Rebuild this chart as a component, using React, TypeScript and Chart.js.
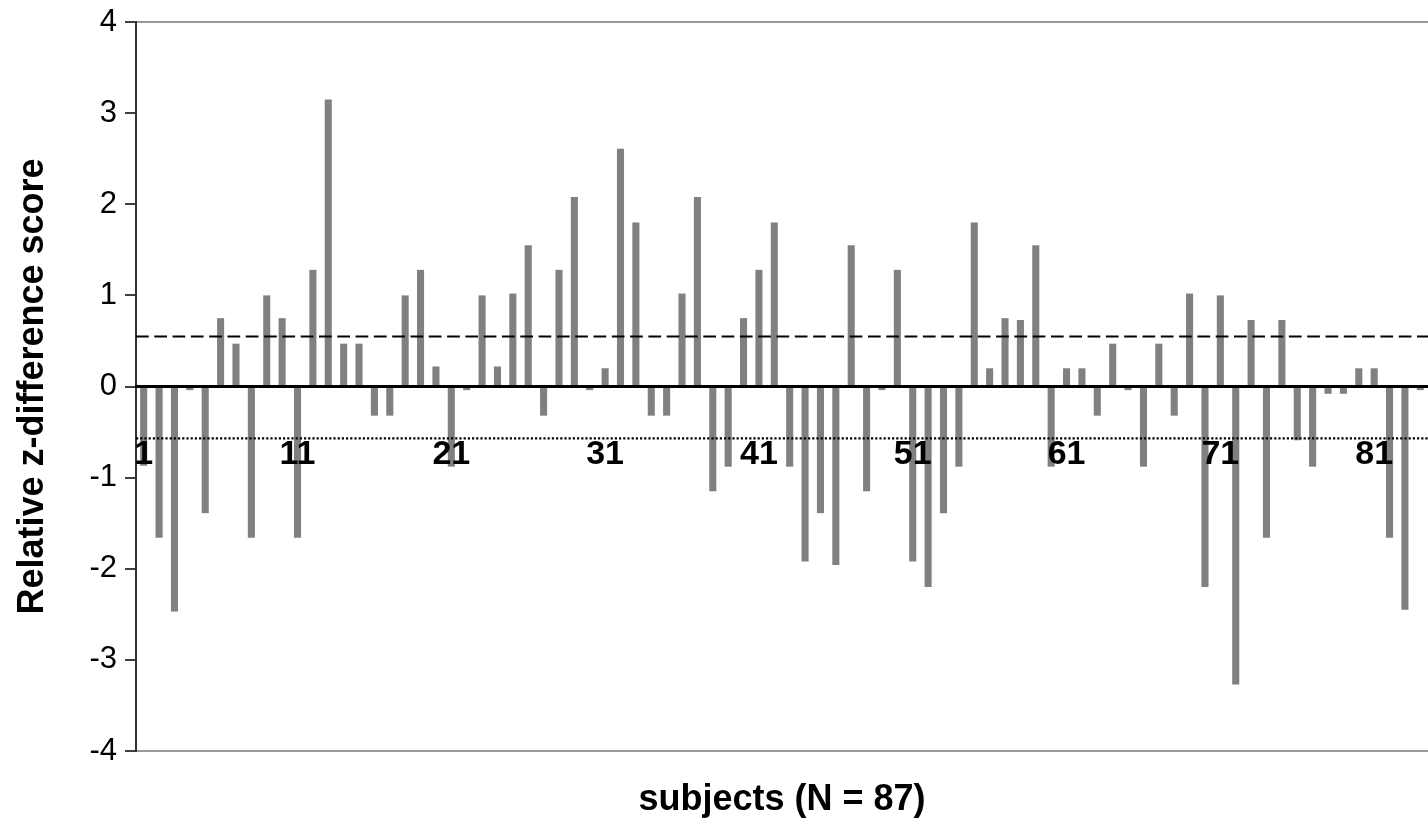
import { useEffect, useRef } from 'react';
import { Chart, registerables } from 'chart.js';

Chart.register(...registerables);

// Subject numbers (N = 87)
const subjects = [
  '1', '2', '3', '4', '5', '6', '7', '8', '9', '10',
  '11', '12', '13', '14', '15', '16', '17', '18', '19', '20',
  '21', '22', '23', '24', '25', '26', '27', '28', '29', '30',
  '31', '32', '33', '34', '35', '36', '37', '38', '39', '40',
  '41', '42', '43', '44', '45', '46', '47', '48', '49', '50',
  '51', '52', '53', '54', '55', '56', '57', '58', '59', '60',
  '61', '62', '63', '64', '65', '66', '67', '68', '69', '70',
  '71', '72', '73', '74', '75', '76', '77', '78', '79', '80',
  '81', '82', '83', '84', '85', '86', '87',
];

// Relative z-difference scores (subjects 1..84 are visible)
const zScores = [
  -0.87, -1.66, -2.47, -0.04, -1.39, 0.75, 0.47, -1.66, 1.0, 0.75,
  -1.66, 1.28, 3.15, 0.47, 0.47, -0.32, -0.32, 1.0, 1.28, 0.22,
  -0.88, -0.04, 1.0, 0.22, 1.02, 1.55, -0.32, 1.28, 2.08, -0.04,
  0.2, 2.61, 1.8, -0.32, -0.32, 1.02, 2.08, -1.15, -0.88, 0.75,
  1.28, 1.8, -0.88, -1.92, -1.39, -1.96, 1.55, -1.15, -0.04, 1.28,
  -1.92, -2.2, -1.39, -0.88, 1.8, 0.2, 0.75, 0.73, 1.55, -0.88,
  0.2, 0.2, -0.32, 0.47, -0.04, -0.88, 0.47, -0.32, 1.02, -2.2,
  1.0, -3.27, 0.73, -1.66, 0.73, -0.59, -0.88, -0.08, -0.08, 0.2,
  0.2, -1.66, -2.45, -0.04,
];

// Reference lines
const upperThreshold = [0.55, 0.55];
const lowerThreshold = [-0.57, -0.57];
const lineSpan = [0, 1];

// Tick labels
const shownSubjectLabels = ['1', '11', '21', '31', '41', '51', '61', '71', '81'];
const lastVisibleSubject = '84';
const yRange = [-4, 4];

const FONT = '"Liberation Sans", Arial, Helvetica, sans-serif';

export default function App() {
  const ref = useRef<HTMLCanvasElement>(null);

  useEffect(() => {
    if (!ref.current) return;
    Chart.defaults.font.family = FONT;
    const chart = new Chart(ref.current, {
      type: 'bar',
      data: {
        labels: subjects,
        datasets: [
          {
            type: 'bar',
            data: zScores,
            backgroundColor: '#808080',
            borderWidth: 0,
            grouped: false,
            barPercentage: 0.46,
            categoryPercentage: 1,
            xAxisID: 'x',
            yAxisID: 'y',
            order: 2,
          } as any,
          {
            type: 'line',
            data: lineSpan.map((x, i) => ({ x, y: upperThreshold[i] })),
            xAxisID: 'xl',
            yAxisID: 'y',
            borderColor: '#000',
            borderWidth: 2,
            borderDash: [12.7, 5.6],
            pointRadius: 0,
            fill: false,
            order: 1,
          } as any,
          {
            type: 'line',
            data: lineSpan.map((x, i) => ({ x, y: lowerThreshold[i] })),
            xAxisID: 'xl',
            yAxisID: 'y',
            borderColor: '#000',
            borderWidth: 2.2,
            borderDash: [2.2, 2],
            pointRadius: 0,
            fill: false,
            order: 1,
          } as any,
        ],
      },
      options: {
        responsive: false,
        animation: false,
        events: [],
        layout: { padding: { top: 22, left: 0, right: 0, bottom: 0 } },
        plugins: {
          legend: { display: false },
          tooltip: { enabled: false },
          title: { display: false },
        },
        scales: {
          x: {
            type: 'category',
            position: { y: 0 } as any,
            max: lastVisibleSubject,
            offset: true,
            grid: { display: false, drawTicks: false, offset: true },
            border: { display: true, color: '#000', width: 3, z: 1 },
            ticks: {
              z: 2,
              autoSkip: false,
              maxRotation: 0,
              minRotation: 0,
              padding: 48,
              color: '#000',
              font: { family: FONT, size: 34, weight: 'bold' },
              callback: function (this: any, value: any) {
                const l = this.getLabelForValue(value);
                return shownSubjectLabels.includes(l) ? l : '';
              },
            },
            afterFit: (s: any) => {
              s.paddingLeft = 0;
              s.paddingRight = 0;
            },
          } as any,
          xl: {
            type: 'linear',
            min: lineSpan[0],
            max: lineSpan[1],
            offset: false,
            display: false,
            grid: { offset: false },
          } as any,
          xb: {
            type: 'category',
            position: 'bottom',
            max: lastVisibleSubject,
            grid: { display: false, drawTicks: false },
            border: { display: false },
            ticks: { display: false },
            title: {
              display: true,
              text: 'subjects (N = 87)',
              color: '#000',
              font: { family: FONT, size: 36, weight: 'bold' },
              padding: { top: 0, bottom: 15 },
            },
            afterFit: (s: any) => {
              s.height = 86;
              s.paddingLeft = 0;
              s.paddingRight = 0;
            },
          } as any,
          y: {
            min: yRange[0],
            max: yRange[1],
            ticks: {
              stepSize: 1,
              padding: 8,
              color: '#000',
              font: { family: FONT, size: 31 },
            },
            grid: {
              color: (c: any) =>
                c.tick && (c.tick.value === yRange[1] || c.tick.value === yRange[0])
                  ? '#9a9a9a'
                  : 'rgba(0,0,0,0)',
              tickColor: '#000',
              tickLength: 11,
              lineWidth: 2,
              tickWidth: 1.5,
            },
            border: { display: true, color: '#333', width: 2 },
            title: {
              display: true,
              text: 'Relative z-difference score',
              color: '#000',
              font: { family: FONT, size: 36, weight: 'bold' },
              padding: { top: 11, bottom: 0 },
            },
            afterFit: (s: any) => {
              s.width = 136;
              s.paddingTop = 0;
              s.paddingBottom = 0;
            },
          } as any,
        },
      },
    });
    return () => chart.destroy();
  }, []);

  return (
    <div
      style={{
        position: 'absolute',
        left: 0,
        top: 0,
        width: 1428,
        height: 837,
        overflow: 'hidden',
        background: '#fff',
      }}
    >
      <canvas ref={ref} width={1428} height={837} style={{ display: 'block' }} />
    </div>
  );
}
